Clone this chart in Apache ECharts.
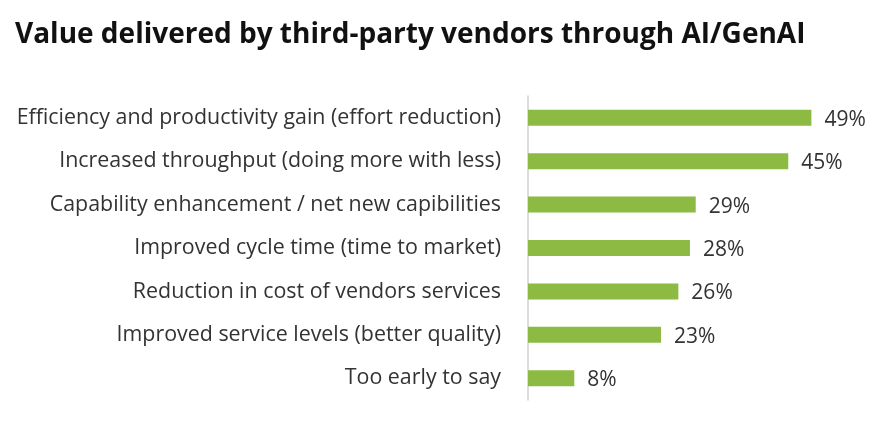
<!DOCTYPE html>
<html>
<head>
<meta charset="utf-8">
<script src="https://cdn.jsdelivr.net/npm/echarts@6/dist/echarts.min.js"></script>
<style>
html,body{margin:0;padding:0;background:#fff;}
#c{width:883px;height:422px;}
</style>
</head>
<body>
<div id="c"></div>
<script>
const titleText = "Value delivered by third-party vendors through AI/GenAI";
const categories = [
  "Efficiency and productivity gain (effort reduction)",
  "Increased throughput (doing more with less)",
  "Capability enhancement / net new capibilities",
  "Improved cycle time (time to market)",
  "Reduction in cost of vendors services",
  "Improved service levels (better quality)",
  "Too early to say"
];
const values = [49, 45, 29, 28, 26, 23, 8];

const chart = echarts.init(document.getElementById('c'));
chart.setOption({
  animation: false,
  backgroundColor: '#fff',
  title: {
    text: titleText,
    left: 10,
    top: 16,
    textStyle: {fontFamily: 'Open Sans', fontWeight: 'bold', fontSize: 28, color: '#111'}
  },
  grid: {left: 528, right: 8, top: 96, bottom: 22, containLabel: false},
  xAxis: {
    type: 'value', min: 0, max: 60,
    show: false
  },
  yAxis: {
    type: 'category',
    data: categories,
    inverse: true,
    axisLine: {show: true, lineStyle: {color: '#d0d0d0', width: 1.5}},
    axisTick: {show: false},
    axisLabel: {margin: 27, fontFamily: 'Open Sans', fontSize: 21.4, color: '#333', padding: [8, 0, 0, 0]}
  },
  series: [{
    type: 'bar',
    data: values,
    barWidth: 16,
    itemStyle: {color: '#8cba43'},
    label: {
      show: true, position: 'right', distance: 13,
      formatter: '{c}%',
      offset: [0, 2],
      fontFamily: 'Open Sans', fontSize: 21, color: '#333'
    }
  }]
});
</script>
</body>
</html>
